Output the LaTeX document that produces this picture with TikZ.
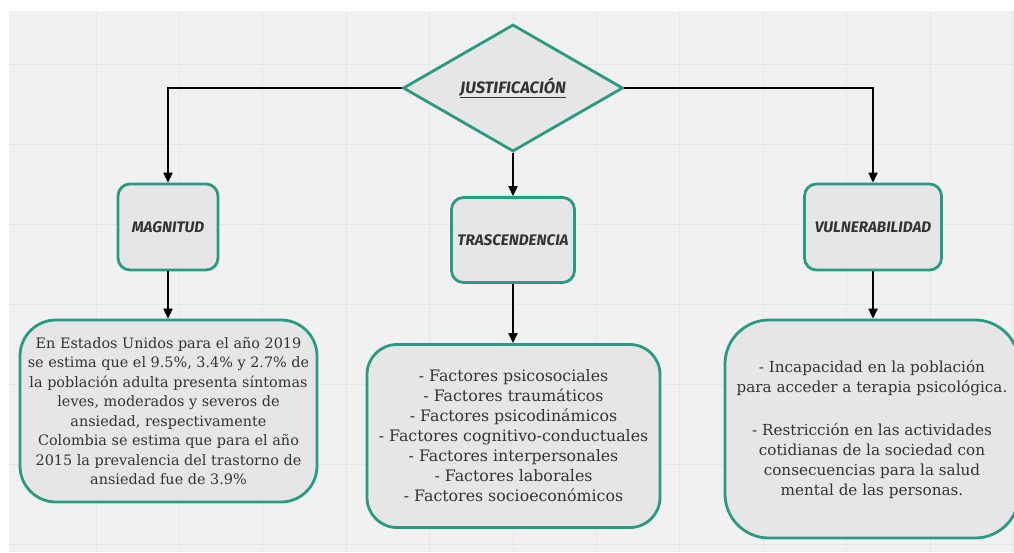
\documentclass[tikz,border=0pt]{standalone}
\usepackage{fontspec}
\setmainfont{DejaVu Serif}
\newfontfamily\titlefont{Fira Sans}
\usetikzlibrary{shapes.geometric,arrows.meta}
\definecolor{bgc}{HTML}{F1F1F1}
\definecolor{gridc}{HTML}{E6E6E6}
\definecolor{boxfill}{HTML}{E6E6E6}
\definecolor{tealc}{HTML}{2A9A82}
\definecolor{txtc}{HTML}{333333}
\tikzset{
  shapebox/.style={draw=tealc, fill=boxfill, line width=2.8pt, text=txtc},
  smallbox/.style={shapebox, rounded corners=12pt, minimum width=100pt, minimum height=86pt, inner sep=0pt,
    font=\titlefont\bfseries\itshape\fontsize{15.3}{17}\selectfont},
  bigbox/.style={shapebox, align=center, inner sep=0pt},
  arr/.style={draw=black, line width=2pt, -{Triangle[length=10pt,width=9pt]}},
}
\begin{document}
\begin{tikzpicture}[x=1pt,y=-1pt]
\useasboundingbox (0,0) rectangle (1014,552);
\fill[white] (0,0) rectangle (1014,552);
\fill[bgc] (9,11) rectangle (1014,552);
\foreach \k in {1,...,12} \draw[gridc, line width=1pt] ({12.6+83.4*\k},11) -- ({12.6+83.4*\k},552);
\foreach \yy in {64,144,...,544} \draw[gridc, line width=1pt] (9,\yy) -- (1014,\yy);

\node[diamond, shapebox, minimum width=220pt, minimum height=127pt, inner sep=0pt,
  font=\titlefont\bfseries\itshape\fontsize{16.5}{18}\selectfont] (just) at (513,88) {\underline{JUSTIFICACIÓN}};

\node[smallbox] (mag) at (168,227) {MAGNITUD};
\node[smallbox, minimum width=123pt, minimum height=85pt] (tra) at (513,240) {TRASCENDENCIA};
\node[smallbox, minimum width=137pt] (vul) at (873,227) {VULNERABILIDAD};

\node[bigbox, rounded corners=36pt, minimum width=297pt, minimum height=182pt,
  font=\fontsize{14.4}{19.5}\selectfont] (magt) at (168.5,411)
{En Estados Unidos para el año 2019\\se estima que el 9.5\%, 3.4\% y 2.7\% de\\la población adulta presenta síntomas\\leves, moderados y severos de\\ansiedad, respectivamente\\Colombia se estima que para el año\\2015 la prevalencia del trastorno de\\ansiedad fue de 3.9\%};

\node[bigbox, rounded corners=30pt, minimum width=293pt, minimum height=183pt,
  font=\fontsize{15.8}{20}\selectfont] (trat) at (513.5,436)
{- Factores psicosociales\\- Factores traumáticos\\- Factores psicodinámicos\\- Factores cognitivo-conductuales\\- Factores interpersonales\\- Factores laborales\\- Factores socioeconómicos};

\node[bigbox, rounded corners=44pt, minimum width=294pt, minimum height=218pt,
  font=\fontsize{15.2}{20}\selectfont] (vult) at (872,429)
{- Incapacidad en la población\\para acceder a terapia psicológica.\\[23pt]- Restricción en las actividades\\cotidianas de la sociedad con\\consecuencias para la salud\\mental de las personas.};

\draw[arr] (just.west) -| (mag.north);
\draw[arr] (just.east) -| (vul.north);
\draw[arr] (just.south) -- (tra.north);
\draw[arr] (mag.south) -- (magt.north -| mag.south);
\draw[arr] (tra.south) -- (trat.north -| tra.south);
\draw[arr] (vul.south) -- (vult.north -| vul.south);
\end{tikzpicture}
\end{document}
